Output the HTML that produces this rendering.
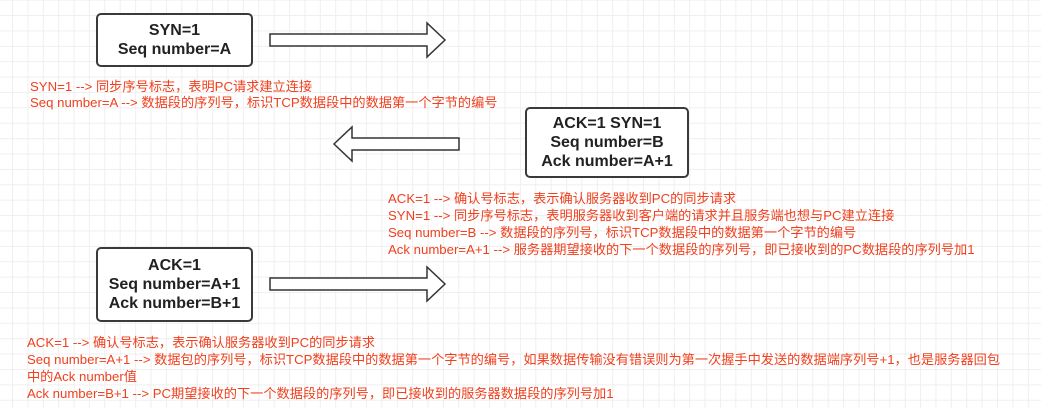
<!DOCTYPE html>
<html><head><meta charset="utf-8"><style>
html,body{margin:0;padding:0}
body{width:1041px;height:408px;position:relative;overflow:hidden;background:#fff;
background-image:linear-gradient(to right,#efefef 1px,transparent 1px),linear-gradient(to bottom,#efefef 1px,transparent 1px);
background-size:15.4px 15.4px;background-position:12px 15px;
font-family:"Liberation Sans","Noto Sans CJK SC",sans-serif}
.box{position:absolute;border:2px solid #3a3a3a;border-radius:5px;background:#fff;box-sizing:border-box;
display:flex;flex-direction:column;justify-content:center;align-items:center;font-weight:bold;font-size:16px;color:#222;line-height:19px}
.t{position:absolute;color:#f0401e;font-size:13.2px;white-space:nowrap;line-height:17px}
svg{position:absolute;left:0;top:0}
</style></head><body>
<svg width="1041" height="408">
<polygon points="270,34 427,34 427,23 445,40 427,57 427,46 270,46" fill="#fff" stroke="#333" stroke-width="1.5"/>
<polygon points="459,138 352,138 352,127 334,144 352,161 352,150 459,150" fill="#fff" stroke="#333" stroke-width="1.5"/>
<polygon points="270,278 427,278 427,267 445,284 427,301 427,290 270,290" fill="#fff" stroke="#333" stroke-width="1.5"/>
</svg>
<div class="box" style="left:96px;top:13px;width:157px;height:54px"><div>SYN=1</div><div>Seq number=A</div></div>
<div class="box" style="left:525px;top:107px;width:164px;height:71px"><div>ACK=1 SYN=1</div><div>Seq number=B</div><div>Ack number=A+1</div></div>
<div class="box" style="left:96px;top:247px;width:157px;height:75px"><div>ACK=1</div><div>Seq number=A+1</div><div>Ack number=B+1</div></div>
<div class="t" style="left:30px;top:79px;line-height:16px">SYN=1 --&gt; 同步序号标志，表明PC请求建立连接<br>Seq number=A --&gt; 数据段的序列号，标识TCP数据段中的数据第一个字节的编号</div>
<div class="t" style="left:388px;top:190px">ACK=1 --&gt; 确认号标志，表示确认服务器收到PC的同步请求<br>SYN=1 --&gt; 同步序号标志，表明服务器收到客户端的请求并且服务端也想与PC建立连接<br>Seq number=B --&gt; 数据段的序列号，标识TCP数据段中的数据第一个字节的编号<br>Ack number=A+1 --&gt; 服务器期望接收的下一个数据段的序列号，即已接收到的PC数据段的序列号加1</div>
<div class="t" style="left:27px;top:334px">ACK=1 --&gt; 确认号标志，表示确认服务器收到PC的同步请求<br>Seq number=A+1 --&gt; 数据包的序列号，标识TCP数据段中的数据第一个字节的编号，如果数据传输没有错误则为第一次握手中发送的数据端序列号+1，也是服务器回包<br>中的Ack number值<br>Ack number=B+1 --&gt; PC期望接收的下一个数据段的序列号，即已接收到的服务器数据段的序列号加1</div>
</body></html>
